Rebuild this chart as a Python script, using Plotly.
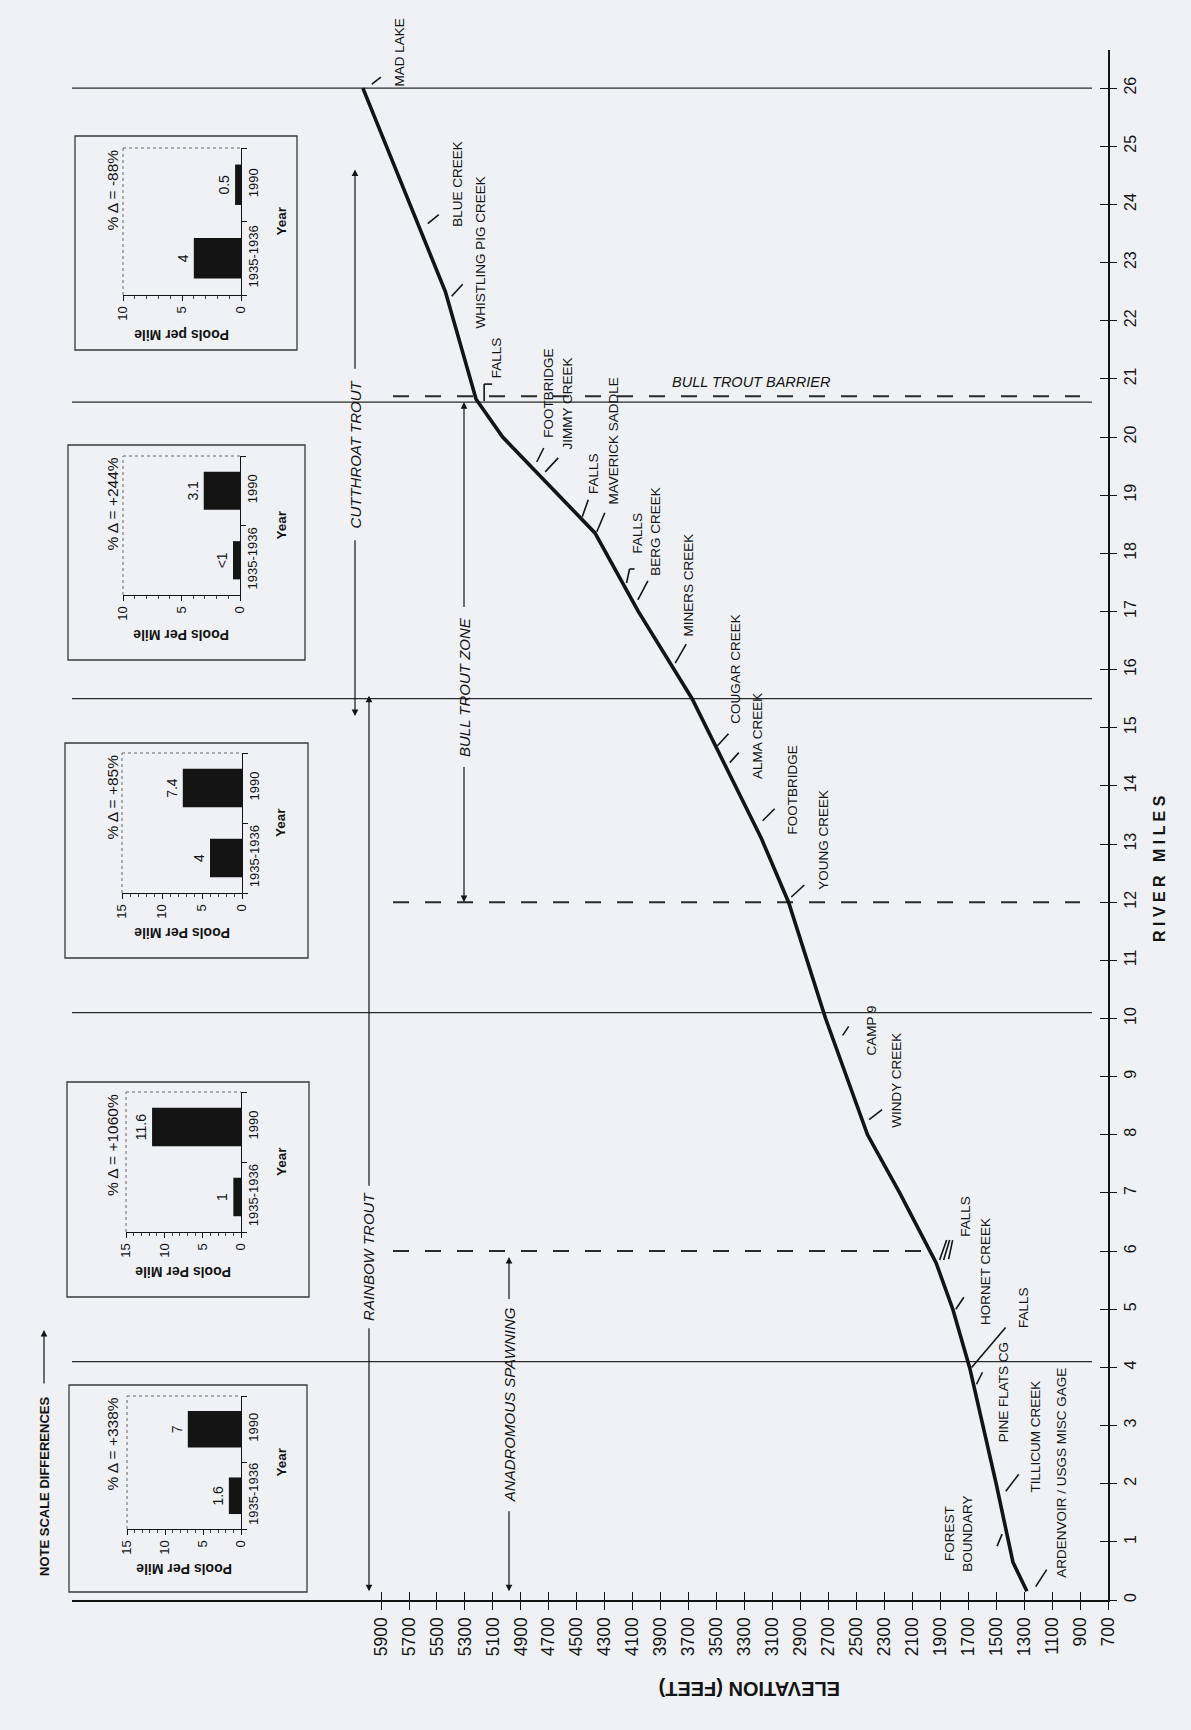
import numpy as np
import plotly.graph_objects as go

# ---------------- data ----------------
# River profile: river mile vs. channel elevation (feet)
profile_miles = [0.15, 0.65, 2.0, 4.0, 5.0, 5.8, 7.0, 8.0, 10.0, 12.0, 13.1,
                 15.5, 17.0, 18.35, 20.0, 20.65, 22.5, 26.0]
profile_elev = [1280, 1380, 1500, 1690, 1810, 1930, 2190, 2420, 2720, 2985, 3180,
                3675, 4060, 4370, 5030, 5220, 5440, 6030]

# Landmarks along the channel (river mile where the leader touches the profile)
landmark_names = ["MAD LAKE", "BLUE CREEK", "WHISTLING PIG CREEK", "FALLS", "FOOTBRIDGE",
                  "JIMMY CREEK", "FALLS", "MAVERICK SADDLE", "FALLS", "BERG CREEK",
                  "MINERS CREEK", "COUGAR CREEK", "ALMA CREEK", "FOOTBRIDGE", "YOUNG CREEK",
                  "CAMP 9", "WINDY CREEK", "FALLS", "HORNET CREEK", "FALLS",
                  "PINE FLATS CG", "TILLICUM CREEK", "FOREST<br>BOUNDARY",
                  "ARDENVOIR / USGS MISC GAGE"]
landmark_miles = [26.0, 23.67, 22.42, 20.6, 19.57,
                  19.4, 18.63, 18.37, 17.49, 17.2,
                  16.11, 14.69, 14.4, 13.4, 12.09,
                  9.71, 8.26, 5.88, 5.0, 4.0,
                  3.71, 1.87, 0.96, 0.23]

# Reach boundaries (solid) and fish-zone limits (dashed)
reach_breaks = [4.1, 10.1, 15.5, 20.6, 26.0]
zone_breaks = [6.0, 12.0, 20.7]

# Fish-use zones (river-mile extent)
zone_names = ["CUTTHROAT TROUT", "BULL TROUT ZONE", "RAINBOW TROUT", "ANADROMOUS SPAWNING"]
zone_low = [15.2, 12.0, 0.15, 0.15]
zone_high = [24.6, 20.6, 15.55, 5.9]

# Pools per mile by reach, upstream reach first
pool_change = ["% \u0394 = -88%", "% \u0394 = +244%", "% \u0394 = +85%",
               "% \u0394 = +1060%", "% \u0394 = +338%"]
pool_years = ["1935-1936", "1990"]
pools_1935 = [4, 0.6, 4, 1, 1.6]
pools_1990 = [0.5, 3.1, 7.4, 11.6, 7]
pools_1935_text = ["4", "<1", "4", "1", "1.6"]
pools_1990_text = ["0.5", "3.1", "7.4", "11.6", "7"]
pool_axis_max = [10, 10, 15, 15, 15]
pool_axis_titles = ["Pools per Mile", "Pools Per Mile", "Pools Per Mile",
                    "Pools Per Mile", "Pools Per Mile"]

elev_ticks = list(range(700, 5901, 200))
mile_ticks = list(range(0, 27))

# ---------------- geometry ----------------
W, H = 1191, 1730
PL, PR, PT, PB = 72, 1108, 50, 1600          # main plot area in pixels
PX_PER_200FT = 27.96
PX_PER_MILE = 58.15
ELEV_LEFT = 700 + (PR - PL) / PX_PER_200FT * 200
MILE_TOP = (PB - PT) / PX_PER_MILE

SANS = "Liberation Sans, Arial, Helvetica, sans-serif"
NARROW = "Liberation Sans Narrow, Arial Narrow, Liberation Sans, sans-serif"
INK = "#141414"
BG = "#eff1f4"


def px_x(px):
    return (px - PL) / (PR - PL)


def px_y(py):
    return (PB - py) / (PB - PT)


def px_to_elev(px):
    return 700 + (PR - px) / PX_PER_200FT * 200


def elev_at(mile):
    return float(np.interp(mile, profile_miles, profile_elev))


fig = go.Figure()

# River profile
fig.add_trace(go.Scatter(x=profile_elev, y=profile_miles, mode="lines",
                         line=dict(color=INK, width=3.6), hoverinfo="skip",
                         showlegend=False))
# Carrier trace for the overlay axes (inside tick marks)
fig.add_trace(go.Scatter(x=[None], y=[None], xaxis="x7", yaxis="y7",
                         showlegend=False, hoverinfo="skip"))

shapes = []
annotations = []

# Reach boundaries
for m in reach_breaks:
    shapes.append(dict(type="line", xref="paper", yref="y", x0=0, x1=px_x(1092),
                       y0=m, y1=m, line=dict(color="#2a2a2a", width=1.3), layer="below"))

# Zone limits (dashed); the lowest one stops at the river
for m in zone_breaks:
    x_end = px_to_elev(1080)
    if m < 8:
        x_end = elev_at(m) + 60
    shapes.append(dict(type="line", xref="x", yref="y", x0=px_to_elev(393), x1=x_end,
                       y0=m, y1=m, line=dict(color="#2a2a2a", width=2, dash="16px,16px"),
                       layer="below"))

# Landmark labels: leader segments (screen px offsets, y down) and text offset
label_layout = [
    ([(9, -4, 18, -11)], (27, 0), "left"),
    ([(10, 0, 21, -9)], (30, 5), "left"),
    ([(5, 0, 16, -12)], (24, 34), "left"),
    ([(6, -1, 6, -18), (6, -18, 14, -18)], (9, -22), "left"),
    ([(10, 0, 17, -14)], (12, -22), "left"),
    ([(9, 0, 22, -14)], (22, -20), "left"),
    ([(3, 0, 9, -17)], (4, -21), "left"),
    ([(3, 0, 11, -19)], (10, -25), "left"),
    ([(4, 0, 7, -14), (7, -14, 12, -14)], (5, -27), "left"),
    ([(6, 0, 16, -19)], (14, -22), "left"),
    ([(5, 0, 16, -19)], (9, -25), "left"),
    ([(2, 0, 13, -12)], (11, -20), "left"),
    ([(6, 0, 15, -10)], (24, 18), "left"),
    ([(10, 0, 22, -12)], (30, 16), "left"),
    ([(5, 0, 18, -12)], (28, -5), "left"),
    ([(11, 0, 17, -9)], (30, 22), "left"),
    ([(7, 0, 20, -10)], (25, 10), "left"),
    ([(6, 2, 13, -18), (10, 2, 16, -18), (15, 1, 19, -18)], (22, -19), "left"),
    ([(3, 0, 11, -12)], (23, 18), "left"),
    ([(2, 0, 36, -40)], (45, -37), "left"),
    ([(3, 0, 9, -12)], (20, 60), "left"),
    ([(8, 0, 21, -17)], (28, 3), "left"),
    ([(-12, 2, -7, -10)], (-32, 30), "right"),
    ([(11, 0, 22, -17)], (27, -7), "left"),
]

for name, mile, (segs, (tx, ty), anchor) in zip(landmark_names, landmark_miles, label_layout):
    e = elev_at(mile)
    for (x0, y0, x1, y1) in segs:
        shapes.append(dict(type="line", xref="x", yref="y", xsizemode="pixel",
                           ysizemode="pixel", xanchor=e, yanchor=mile,
                           x0=x0, x1=x1, y0=-y0, y1=-y1,
                           line=dict(color=INK, width=1.6)))
    annotations.append(dict(x=e, y=mile, xref="x", yref="y", text=name, textangle=-90,
                            showarrow=False, xanchor=anchor, yanchor="bottom",
                            xshift=tx, yshift=-ty, align="center",
                            font=dict(family=NARROW, size=13.5, color=INK)))

# Fish-use zones: label with arrows to both ends
zone_x_px = [355, 464, 369, 509]
zone_text_mid = [19.7, 15.7, 5.9, 3.35]
zone_text_half = [1.45, 1.35, 1.2, 1.8]
for name, lo, hi, xp, mid, half in zip(zone_names, zone_low, zone_high, zone_x_px,
                                       zone_text_mid, zone_text_half):
    xpos = px_x(xp)
    for head, tail in ((hi, mid + half), (lo, mid - half)):
        annotations.append(dict(x=xpos, y=head, xref="paper", yref="y", text="",
                                showarrow=True, axref="pixel", ax=0, ayref="y", ay=tail,
                                arrowhead=2, arrowsize=1.1, arrowwidth=1.2,
                                arrowcolor=INK, standoff=0))
    annotations.append(dict(x=xpos, y=mid, xref="paper", yref="y",
                            text="<i>" + name + "</i>", textangle=-90, showarrow=False,
                            xanchor="center", yanchor="middle",
                            font=dict(family=SANS, size=15, color=INK)))

annotations.append(dict(x=px_x(751), y=zone_breaks[2], xref="paper", yref="y",
                        text="<i>BULL TROUT BARRIER</i>", showarrow=False,
                        xanchor="center", yanchor="bottom", yshift=4,
                        font=dict(family=NARROW, size=14.5, color=INK)))

# Axis titles and note
annotations.append(dict(x=px_x(750), y=px_y(1689), xref="paper", yref="paper",
                        text="<b>ELEVATION (FEET)</b>", textangle=180, showarrow=False,
                        xanchor="center", yanchor="middle",
                        font=dict(family=SANS, size=20, color=INK)))
annotations.append(dict(x=px_x(1160), y=px_y(869), xref="paper", yref="paper",
                        text="<b>R I V E R&nbsp;&nbsp; M I L E S</b>", textangle=-90,
                        showarrow=False, xanchor="center", yanchor="middle",
                        font=dict(family=SANS, size=16, color=INK)))
annotations.append(dict(x=px_x(44), y=px_y(1487), xref="paper", yref="paper",
                        text="<b>NOTE SCALE DIFFERENCES</b>", textangle=-90,
                        showarrow=False, xanchor="center", yanchor="middle",
                        font=dict(family=SANS, size=13, color=INK)))
annotations.append(dict(x=px_x(44), y=px_y(1330), xref="paper", yref="paper", text="",
                        showarrow=True, axref="pixel", ayref="pixel", ax=0, ay=55,
                        arrowhead=2, arrowsize=1.1, arrowwidth=1.2, arrowcolor=INK))

# ---------------- pools-per-mile insets ----------------
inset_plot_px = [(123, 241, 148, 295), (123, 240, 456, 595), (122, 242, 753, 893),
                 (126, 241, 1092, 1232), (127, 241, 1396, 1529)]
inset_box_px = [(75, 297, 136, 350), (68, 305, 445, 660), (65, 308, 743, 958),
                (67, 309, 1082, 1297), (69, 307, 1385, 1592)]

layout_axes = {}
for i in range(5):
    k = i + 2
    l, r, t, b = inset_plot_px[i]
    fig.add_trace(go.Bar(x=[pools_1935[i], pools_1990[i]], y=pool_years, orientation="h",
                         xaxis=f"x{k}", yaxis=f"y{k}", width=0.55,
                         marker=dict(color=INK, line=dict(width=0)),
                         text=[pools_1935_text[i], pools_1990_text[i]],
                         textposition="outside", textangle=-90, cliponaxis=False,
                         textfont=dict(family=SANS, size=14, color=INK),
                         hoverinfo="skip", showlegend=False))
    vmax = pool_axis_max[i]
    layout_axes[f"xaxis{k}"] = dict(
        domain=[px_x(l), px_x(r)], anchor=f"y{k}", range=[vmax, 0],
        tickvals=list(range(0, vmax + 1, 5)), ticks="outside", ticklen=5, tickwidth=1,
        tickcolor=INK, minor=dict(dtick=1, ticks="outside", ticklen=2.5, tickcolor="#444"),
        showline=True, linecolor=INK, linewidth=1.2, tickangle=-90,
        tickfont=dict(family=SANS, size=13, color=INK), showgrid=False, zeroline=False,
        fixedrange=True)
    layout_axes[f"yaxis{k}"] = dict(
        domain=[px_y(b), px_y(t)], anchor=f"x{k}", side="right", type="category",
        categoryorder="array", categoryarray=pool_years, range=[-0.5, 1.5],
        tickson="boundaries", ticks="outside", ticklen=5, tickcolor=INK,
        showline=True, linecolor=INK, linewidth=1.2, tickangle=-90,
        tickfont=dict(family=SANS, size=13, color=INK), showgrid=False, zeroline=False,
        fixedrange=True)

    bl, br, bt, bb = inset_box_px[i]
    shapes.append(dict(type="rect", xref="paper", yref="paper", x0=px_x(bl), x1=px_x(br),
                       y0=px_y(bb), y1=px_y(bt), line=dict(color="#3a3a3a", width=1.3),
                       fillcolor="rgba(0,0,0,0)", layer="below"))
    for (x0, y0, x1, y1) in ((0, 0, 0, 1), (0, 1, 1, 1)):
        shapes.append(dict(type="line", xref=f"x{k} domain", yref=f"y{k} domain",
                           x0=x0, y0=y0, x1=x1, y1=y1,
                           line=dict(color="#666", width=1, dash="dot")))

    annotations.append(dict(x=px_x(112), y=px_y(t), xref="paper", yref="paper",
                            text=pool_change[i], textangle=-90, showarrow=False,
                            xanchor="center", yanchor="top",
                            font=dict(family=SANS, size=15.5, color=INK)))
    annotations.append(dict(x=px_x((l + r) / 2), y=px_y(b + 40), xref="paper",
                            yref="paper", text="<b>" + pool_axis_titles[i] + "</b>",
                            textangle=180, showarrow=False, xanchor="center",
                            yanchor="middle", font=dict(family=SANS, size=14, color=INK)))
    annotations.append(dict(x=px_x(281), y=px_y((t + b) / 2), xref="paper", yref="paper",
                            text="<b>Year</b>", textangle=-90, showarrow=False,
                            xanchor="center", yanchor="middle",
                            font=dict(family=SANS, size=13.5, color=INK)))

fig.update_layout(
    width=W, height=H,
    margin=dict(l=PL, r=W - PR, t=PT, b=H - PB, pad=0),
    paper_bgcolor=BG, plot_bgcolor=BG,
    showlegend=False,
    font=dict(family=SANS, color=INK),
    xaxis=dict(domain=[0, 1], range=[ELEV_LEFT, 700], anchor="y",
               tickvals=elev_ticks, ticks="outside", ticklen=8, tickwidth=1.3,
               tickcolor=INK, showline=True, linewidth=2.4, linecolor=INK,
               tickangle=-90, tickfont=dict(family=SANS, size=17.5, color=INK),
               showgrid=False, zeroline=False, fixedrange=True),
    yaxis=dict(domain=[0, 1], range=[0, MILE_TOP], side="right", anchor="x",
               tickvals=mile_ticks, ticks="outside", ticklen=7, tickwidth=1.3,
               tickcolor=INK, showline=True, linewidth=2.4, linecolor=INK,
               tickangle=-90, tickfont=dict(family=SANS, size=16, color=INK),
               showgrid=False, zeroline=False, fixedrange=True),
    xaxis7=dict(overlaying="x", anchor="y", range=[ELEV_LEFT, 700], tickvals=elev_ticks,
                ticks="inside", ticklen=8, tickwidth=1.3, tickcolor=INK,
                showticklabels=False, showline=False, showgrid=False, zeroline=False,
                fixedrange=True),
    yaxis7=dict(overlaying="y", anchor="x", side="right", range=[0, MILE_TOP],
                tickvals=mile_ticks, ticks="inside", ticklen=8, tickwidth=1.3,
                tickcolor=INK, showticklabels=False, showline=False, showgrid=False,
                zeroline=False, fixedrange=True),
    shapes=shapes,
    annotations=annotations,
    **layout_axes,
)

fig.write_html("out.html")
